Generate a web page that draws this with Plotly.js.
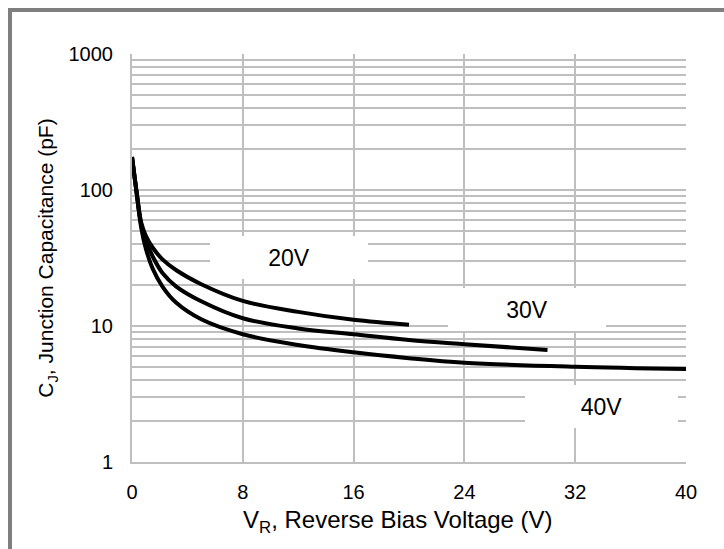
<!DOCTYPE html>
<html>
<head>
<meta charset="utf-8">
<script src="https://cdn.plot.ly/plotly-3.0.1.min.js"></script>
<style>
  html, body { margin: 0; padding: 0; background: #fff; }
  #chart { width: 724px; height: 549px; }
</style>
</head>
<body>
<div id="chart"></div>
<script>
// Junction capacitance vs. reverse bias voltage, one curve per voltage rating
const voltage20 = [0, 0.33, 0.67, 1.0, 1.5, 2.2, 3.2, 5, 8, 12, 16, 20];
const cap20     = [175, 97, 57.5, 46, 37.6, 30.9, 25.7, 20.3, 15.3, 12.7, 11.1, 10.2];

const voltage30 = [0, 0.33, 0.67, 1.0, 1.5, 2.2, 3.2, 5, 8, 12, 16, 20, 24, 30];
const cap30     = [175, 97, 55, 42.7, 32.4, 24.5, 19.5, 15.2, 11.4, 9.6, 8.7, 7.9, 7.35, 6.66];

const voltage40 = [0, 0.33, 0.67, 1.0, 1.5, 2.2, 3.2, 5, 8, 12, 16, 20, 24, 32, 40];
const cap40     = [175, 95, 52.5, 37, 26.3, 19.5, 14.8, 11.2, 8.7, 7.25, 6.4, 5.8, 5.37, 5.02, 4.83];

const seriesLabels = ['20V', '30V', '40V'];

const xTicks = [0, 8, 16, 24, 32, 40];
const yTicks = [1, 10, 100, 1000];
const yTickText = ['1', '10', '100', '1000'];

const xTitle = 'V<sub>R</sub>, Reverse Bias Voltage (V)';
const yTitle = 'C<sub>J</sub>, Junction Capacitance (pF)';

const FONT = 'Liberation Sans, Arial, Helvetica, sans-serif';
const GRID = '#bfbfbf';

function curve(x, y) {
  return {
    x: x, y: y, type: 'scatter', mode: 'lines',
    line: { color: '#000', width: 4, shape: 'spline', smoothing: 1 },
    hoverinfo: 'skip', showlegend: false
  };
}

const traces = [
  curve(voltage20, cap20),
  curve(voltage30, cap30),
  curve(voltage40, cap40)
];

// white label boxes that sit on top of the grid
function label(text, x, ylog, w) {
  return {
    text: text, x: x, y: ylog, xref: 'x', yref: 'y',
    showarrow: false, bgcolor: '#ffffff', width: w, height: 43,
    borderpad: 0, borderwidth: 0,
    font: { family: FONT, size: 23, color: '#000' }
  };
}

const layout = {
  width: 724, height: 549,
  margin: { l: 132, r: 38, t: 54, b: 87 },
  paper_bgcolor: '#fff', plot_bgcolor: '#fff',
  font: { family: FONT, color: '#000' },
  xaxis: {
    range: [0, 40], tickvals: xTicks, ticktext: xTicks.map(String),
    showgrid: true, gridcolor: GRID, gridwidth: 2,
    zeroline: false, showline: true, linecolor: GRID, linewidth: 2,
    ticks: '', ticklabelstandoff: 11,
    tickfont: { family: FONT, size: 20, color: '#000' },
    fixedrange: true
  },
  yaxis: {
    type: 'log', range: [0, 3], tickvals: yTicks, ticktext: yTickText,
    showgrid: true, gridcolor: GRID, gridwidth: 2,
    minor: { dtick: 'D1', showgrid: true, gridcolor: GRID, gridwidth: 2, ticks: '' },
    zeroline: false, showline: true, linecolor: GRID, linewidth: 2,
    ticks: '', ticklabelstandoff: 13,
    tickfont: { family: FONT, size: 20, color: '#000' },
    title: { text: yTitle, font: { family: FONT, size: 21, color: '#000' }, standoff: 9 },
    fixedrange: true
  },
  annotations: [
    label(seriesLabels[0], 11.34, 1.504, 158),
    label(seriesLabels[1], 28.52, 1.121, 158),
    label(seriesLabels[2], 33.9, 0.408, 153),
    // x-axis title, set slightly left of the plot centre
    { text: xTitle, xref: 'paper', yref: 'paper', x: 0.48, y: -0.147,
      xanchor: 'center', yanchor: 'middle', showarrow: false,
      font: { family: FONT, size: 24, color: '#000' } }
  ],
  shapes: [
    // outer frame of the figure
    { type: 'rect', xref: 'paper', yref: 'paper',
      x0: -0.2202, x1: 1.097, y0: -0.240, y1: 1.108,
      line: { color: '#7f7f7f', width: 4 }, fillcolor: 'rgba(0,0,0,0)', layer: 'below' }
  ]
};

Plotly.newPlot('chart', traces, layout, { displayModeBar: false, staticPlot: true });
</script>
</body>
</html>
